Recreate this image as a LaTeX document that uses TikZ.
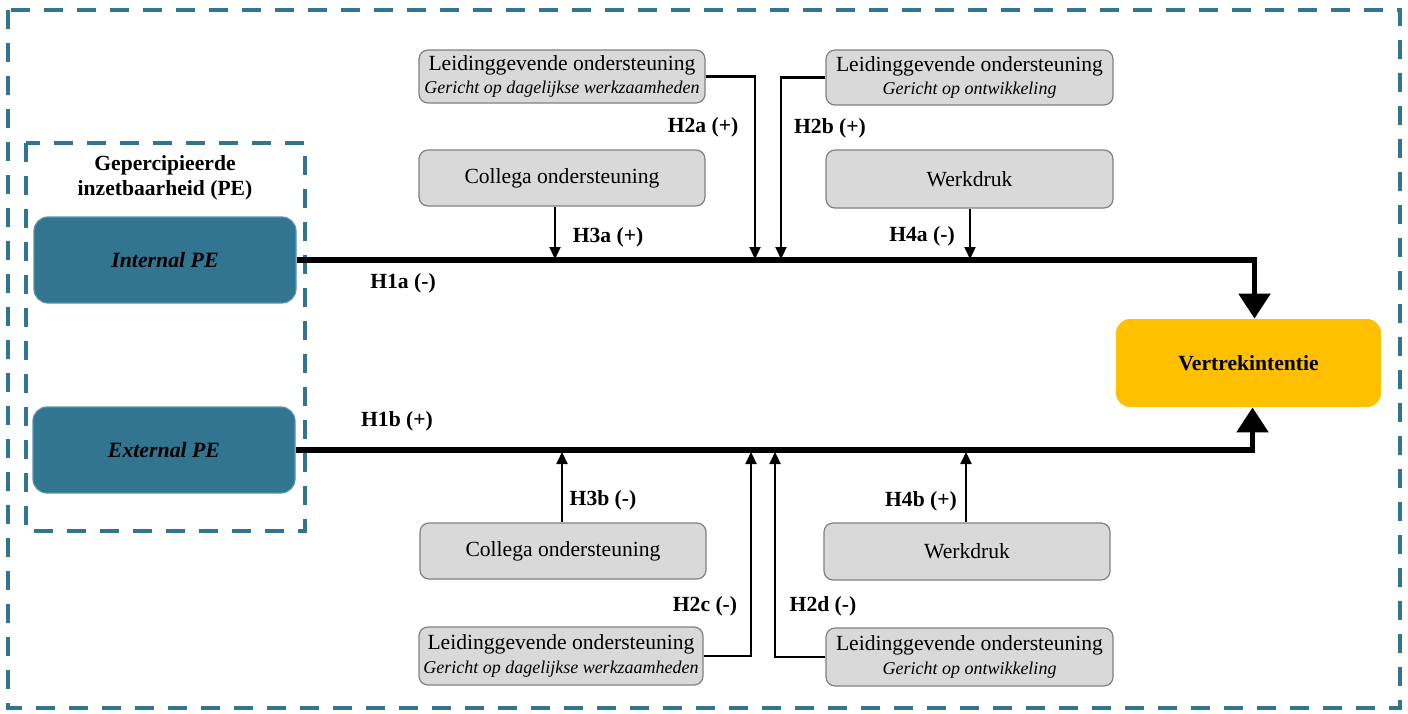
\documentclass[tikz,border=0pt]{standalone}
\usepackage{fontspec}
\setmainfont{Liberation Serif}
\usetikzlibrary{arrows.meta}
\definecolor{teal}{HTML}{317590}
\definecolor{tealedge}{HTML}{5A93AD}
\definecolor{amber}{HTML}{FFC000}
\definecolor{greyfill}{HTML}{D9D9D9}
\definecolor{greyedge}{HTML}{808080}
\tikzset{
  dashborder/.style={draw=teal, line width=1.6pt, dash pattern=on 9.5pt off 7pt},
  greybox/.style={draw=greyedge, line width=0.6pt, fill=greyfill, rounded corners=4.5pt, align=center, inner sep=0pt, font=\fontsize{10.8}{11.8}\selectfont},
  pebox/.style={draw=tealedge, line width=0.6pt, fill=teal, rounded corners=7pt, minimum width=131pt, minimum height=43pt, inner sep=0pt, font=\fontsize{10.9}{13}\selectfont\bfseries\itshape},
  outbox/.style={fill=amber, rounded corners=7pt, minimum width=132.5pt, minimum height=44pt, inner sep=0pt, font=\fontsize{10.8}{13}\selectfont\bfseries},
  hlabel/.style={inner sep=0pt, font=\fontsize{10.8}{13}\selectfont\bfseries},
  mainline/.style={line width=2.7pt, -{Triangle[width=15.5pt,length=12.5pt]}},
  modline/.style={line width=1.1pt, -{Stealth[width=5.5pt,length=6pt,inset=0pt]}},
}
\newcommand{\sub}[1]{{\fontsize{9}{11.8}\selectfont\itshape #1}}
\begin{document}
\begin{tikzpicture}[x=0.5pt,y=-0.5pt]
\useasboundingbox (0,0) rectangle (1408,713);
% borders
\draw[dashborder] (8,10) rectangle (1400,708);
\draw[dashborder] (26,143) rectangle (305,531);
\node[hlabel, align=center, font=\fontsize{10.8}{12.5}\selectfont\bfseries] (title) at (165,178) {Gepercipieerde\\inzetbaarheid (PE)};
% main boxes
\node[pebox] (int) at (165,260) {Internal PE};
\node[pebox] (ext) at (164,450) {External PE};
\node[outbox] (vt) at (1248.5,363) {Vertrekintentie};
% moderator boxes top
\node[greybox, minimum width=143pt, minimum height=26.5pt] (lo1) at (562,76.5) {Leidinggevende ondersteuning\\\sub{Gericht op dagelijkse werkzaamheden}};
\node[greybox, minimum width=143.5pt, minimum height=27.5pt] (lo2) at (969.5,77.5) {Leidinggevende ondersteuning\\\sub{Gericht op ontwikkeling}};
\node[greybox, minimum width=143pt, minimum height=28pt] (ct) at (562,178) {Collega ondersteuning};
\node[greybox, minimum width=143.5pt, minimum height=29pt] (wt) at (969.5,179) {Werkdruk};
% moderator boxes bottom
\node[greybox, minimum width=143pt, minimum height=28pt] (cb) at (563,551) {Collega ondersteuning};
\node[greybox, minimum width=143pt, minimum height=28.5pt] (wb) at (967,551.5) {Werkdruk};
\node[greybox, minimum width=142pt, minimum height=29pt] (lo3) at (561,656) {Leidinggevende ondersteuning\\\sub{Gericht op dagelijkse werkzaamheden}};
\node[greybox, minimum width=143.5pt, minimum height=29pt] (lo4) at (969.5,657) {Leidinggevende ondersteuning\\\sub{Gericht op ontwikkeling}};
% main paths
\draw[mainline] (int.east) -| ([xshift=3pt]vt.north);
\draw[mainline] (ext.east) -| ([xshift=2pt]vt.south);
% junction points on main lines
\coordinate (j3a) at (555,259);
\coordinate (j2a) at (755,259);
\coordinate (j2b) at (781,259);
\coordinate (j4a) at (970,259);
\coordinate (j3b) at (562,452);
\coordinate (j2c) at (751,452);
\coordinate (j2d) at (775,452);
\coordinate (j4b) at (966,452);
% moderator arrows
\draw[modline] (ct.south -| j3a) -- (j3a);
\draw[modline] (lo1.east) -| (j2a);
\draw[modline] (lo2.west) -| (j2b);
\draw[modline] (wt.south -| j4a) -- (j4a);
\draw[modline] (cb.north -| j3b) -- (j3b);
\draw[modline] (lo3.east) -| (j2c);
\draw[modline] (lo4.west) -| (j2d);
\draw[modline] (wb.north -| j4b) -- (j4b);
% labels
\node[hlabel] (h1a) at (403,283) {H1a (-)};
\node[hlabel] (h1b) at (397,421) {H1b (+)};
\node[hlabel] (h2a) at (703,127) {H2a (+)};
\node[hlabel] (h2b) at (830,128) {H2b (+)};
\node[hlabel] (h3a) at (608,237) {H3a (+)};
\node[hlabel] (h4a) at (922,236) {H4a (-)};
\node[hlabel] (h3b) at (603,500) {H3b (-)};
\node[hlabel] (h4b) at (921,501) {H4b (+)};
\node[hlabel] (h2c) at (705,606) {H2c (-)};
\node[hlabel] (h2d) at (823,606) {H2d (-)};
\end{tikzpicture}
\end{document}
